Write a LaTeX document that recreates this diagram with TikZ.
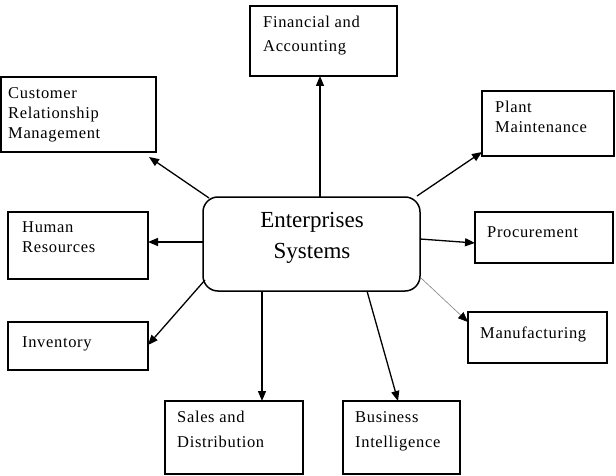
\documentclass[tikz,border=0pt]{standalone}
\usepackage{fontspec}
\setmainfont{Liberation Serif}
\newfontfamily\labfont[LetterSpace=4]{Liberation Serif}
\usetikzlibrary{arrows.meta,calc}
\begin{document}
\begin{tikzpicture}[x=1pt,y=-1pt,
  box/.style={draw,line width=1.3pt,inner sep=0pt,outer sep=0pt},
  lbl/.style={anchor=base west,inner sep=0pt,font=\labfont\fontsize{16.5}{20}\selectfont},
  conn/.style={line width=1.3pt,-{Triangle[length=10pt,width=8pt]}},
  faint/.style={line width=0.6pt,draw=gray,-{Triangle[length=10pt,width=8pt,color=black]}}]
\useasboundingbox (0,0) rectangle (616,476);

% centre
\node[draw,rounded corners=15pt,line width=1.5pt,inner sep=0pt,outer sep=0pt,
      minimum width=217pt,minimum height=94pt] (c) at (311.5,244) {};
\node[anchor=base,inner sep=0pt,font=\fontsize{23}{31}\selectfont] (ct) at (312,227)
  {\vtop{\baselineskip=31pt\halign{\hfil#\hfil\cr Enterprises\cr Systems\cr}}};

% boxes
\node[box,minimum width=147pt,minimum height=70pt] (fin) at (323.5,41) {};
\node[box,minimum width=155pt,minimum height=75pt] (crm) at (78.5,114.5) {};
\node[box,minimum width=132pt,minimum height=65pt] (plant) at (548,123.5) {};
\node[box,minimum width=138pt,minimum height=51pt] (proc) at (544,237.5) {};
\node[box,minimum width=139pt,minimum height=51pt] (manuf) at (537.5,337.5) {};
\node[box,minimum width=140pt,minimum height=67pt] (hr) at (78,245.5) {};
\node[box,minimum width=140pt,minimum height=48pt] (inv) at (78,346) {};
\node[box,minimum width=138pt,minimum height=73pt] (sales) at (234,437.5) {};
\node[box,minimum width=117pt,minimum height=73pt] (bi) at (401.5,437.5) {};

% labels
\node[lbl] (finT) at (263,28) {\vtop{\baselineskip=24pt\hbox{Financial and}\hbox{Accounting}}};
\node[lbl] (crmT) at (8,99) {\vtop{\baselineskip=20pt\hbox{Customer}\hbox{Relationship}\hbox{Management}}};
\node[lbl] (plantT) at (495,113) {\vtop{\baselineskip=20pt\hbox{Plant}\hbox{Maintenance}}};
\node[lbl] (procT) at (487,237) {Procurement};
\node[lbl] (manufT) at (480,338) {Manufacturing};
\node[lbl] (hrT) at (22,233) {\vtop{\baselineskip=20pt\hbox{Human}\hbox{Resources}}};
\node[lbl] (invT) at (22,347) {Inventory};
\node[lbl] (salesT) at (177,422) {\vtop{\baselineskip=25pt\hbox{Sales and}\hbox{Distribution}}};
\node[lbl] (biT) at (355,422) {\vtop{\baselineskip=25pt\hbox{Business}\hbox{Intelligence}}};

% connectors
\draw[conn] ($(c.north west)+(117,0)$) -- ($(fin.south west)+(70,0)$);
\draw[conn] ($(c.north west)+(6,1)$) -- ($(crm.south east)+(-7,5)$);
\draw[conn] ($(c.north east)+(-3,-1)$) -- ($(plant.south west)+(0,-4)$);
\draw[conn] ($(c.east)+(0,-5)$) -- ($(proc.west)+(0,5.5)$);
\draw[faint] ($(c.south east)+(1,-13)$) -- ($(manuf.north west)+(0,10)$);
\draw[conn] ($(c.west)+(0,-2)$) -- ($(hr.east)+(0,-3.5)$);
\draw[conn] ($(c.south west)+(2,-11)$) -- ($(inv.east)+(0,-1)$);
\draw[conn] ($(c.south west)+(59,0)$) -- ($(sales.north west)+(97,0)$);
\draw[conn] ($(c.south west)+(164,0)$) -- ($(bi.north west)+(55,0)$);
\end{tikzpicture}
\end{document}
